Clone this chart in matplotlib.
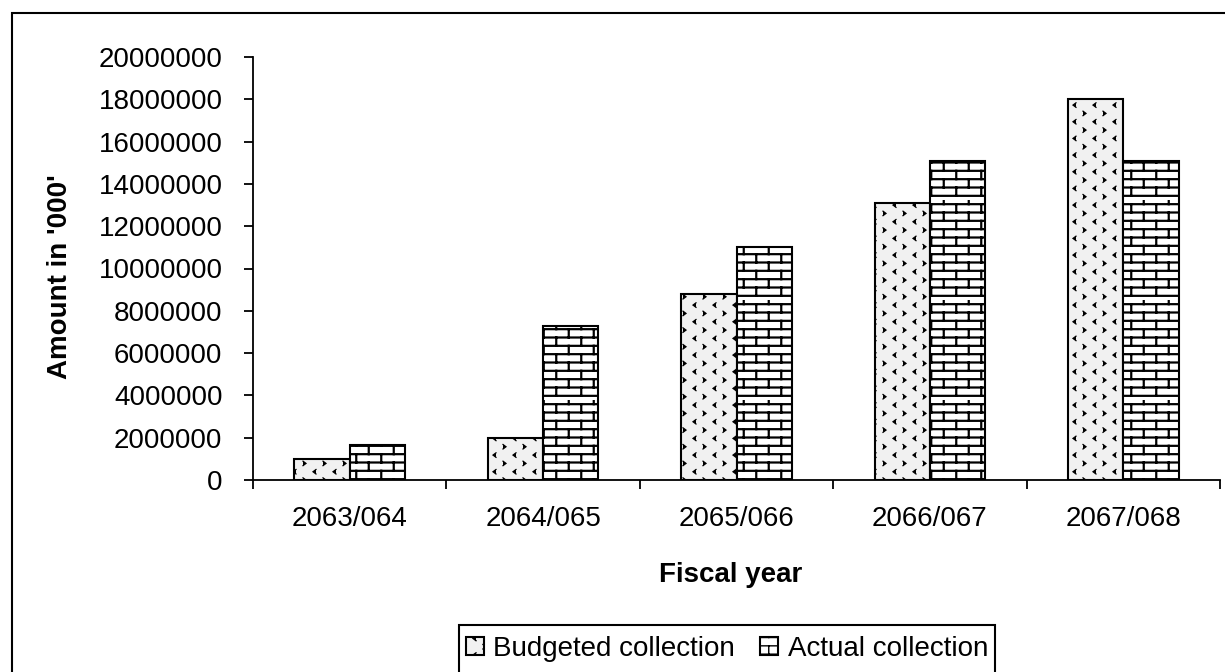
import matplotlib
matplotlib.use('Agg')
import matplotlib.pyplot as plt
import matplotlib.hatch as mhatch
import numpy as np
from matplotlib.path import Path
from matplotlib.patches import Rectangle

# data (amount in '000')
years = ['2063/064', '2064/065', '2065/066', '2066/067', '2067/068']
budgeted = [1000000, 2000000, 8800000, 13100000, 18000000]
actual = [1650000, 7300000, 11000000, 15100000, 15100000]
yticks = np.arange(0, 20000001, 2000000)


def fill_segments(segs, vertices, codes):
    # each segment is a list of points -> moveto + linetos
    i = 0
    for pts in segs:
        for k, p in enumerate(pts):
            vertices[i] = p
            codes[i] = Path.MOVETO if k == 0 else Path.LINETO
            i += 1


class BrickHatch(mhatch.HatchPatternBase):
    # '+' gives the excel brick wall fill
    def __init__(self, hatch, density):
        self.rows = 12 if '+' in hatch else 0
        self.num_vertices = self.rows * 5 * 2

    def set_vertices_and_codes(self, vertices, codes):
        segs = []
        dy = 1.0 / self.rows
        for r in range(self.rows):
            y0 = r * dy + dy / 2
            segs.append([(0.0, y0), (1.0, y0)])
            off = 0.0625 if r % 2 == 0 else 0.1875
            for k in range(4):
                x = off + k * 0.25
                segs.append([(x, y0), (x, y0 + dy)])
        fill_segments(segs, vertices, codes)


class ChevronHatch(mhatch.HatchPatternBase):
    # '.' gives small < > marks, like the excel "confetti" fill
    def __init__(self, hatch, density):
        self.rows = 12 if '.' in hatch else 0
        self.cols = 5
        self.num_vertices = self.rows * self.cols * 3

    def set_vertices_and_codes(self, vertices, codes):
        segs = []
        w, h = 0.03, 0.045
        for r in range(self.rows):
            y = r / self.rows + 0.01
            for c in range(self.cols):
                if r % 2 == 0:
                    x = c / self.cols + 0.03
                    segs.append([(x, y + h), (x + w, y + h / 2), (x, y)])
                else:
                    x = c / self.cols + 0.03 + 0.5 / self.cols
                    segs.append([(x + w, y + h), (x, y + h / 2), (x + w, y)])
        fill_segments(segs, vertices, codes)


mhatch._hatch_types = [BrickHatch, ChevronHatch]

plt.rcParams['font.family'] = ['Liberation Sans', 'DejaVu Sans']
plt.rcParams['font.size'] = 20

fig = plt.figure(figsize=(12.25, 6.72), dpi=100)
ax = fig.add_axes([253 / 1225, 1 - 480 / 672, 967 / 1225, 423 / 672])

x = np.arange(len(years))
w = 1 / 3.5
with plt.rc_context({'hatch.linewidth': 0.9}):
    ax.bar(x - w / 2, budgeted, w, facecolor='#f1f1f1', edgecolor='black',
           linewidth=1.5, hatch='.', label='Budgeted collection')
with plt.rc_context({'hatch.linewidth': 1.6}):
    ax.bar(x + w / 2, actual, w, facecolor='white', edgecolor='black',
           linewidth=1.5, hatch='+', label='Actual collection')

ax.set_xlim(-0.5, 4.5)
ax.set_ylim(0, 20000000)
ax.set_yticks(yticks, [str(v) for v in yticks])
ax.set_xticks(x, years)
ax.set_xticks(np.arange(-0.5, 5, 1), minor=True)
ax.tick_params(axis='x', which='major', length=0, pad=19)
ax.tick_params(axis='x', which='minor', length=6.5, width=1.3, direction='out')
ax.tick_params(axis='y', length=6.5, width=1.3, direction='out', pad=15.5)

for s in ['top', 'right']:
    ax.spines[s].set_visible(False)
for s in ['left', 'bottom']:
    ax.spines[s].set_linewidth(1.3)

fig.text(60 / 1225, 1 - 277 / 672, "Amount in '000'", rotation=90,
         ha='center', va='center', fontweight='bold')
fig.text(731 / 1225, 1 - 575 / 672, 'Fiscal year',
         ha='center', va='center', fontweight='bold')

leg = fig.legend(loc='upper center', bbox_to_anchor=(727 / 1225, 1 - 629 / 672),
                 ncol=2, frameon=False,
                 handlelength=0.65, handleheight=0.6, handletextpad=0.35,
                 columnspacing=0.9, borderpad=0.25, borderaxespad=0)

# legend box runs off the bottom of the picture, so draw it by hand
fig.canvas.draw()
bb = leg.get_window_extent().transformed(fig.transFigure.inverted())
top = 1 - 625 / 672
fig.patches.append(Rectangle((bb.x0, -0.1), bb.width, top + 0.1,
                             transform=fig.transFigure, fill=False,
                             edgecolor='black', linewidth=1.5))

# outer chart-area border (cut off at right and bottom)
fig.patches.append(Rectangle((12 / 1225, -0.2), 1.2, 0.2 + 1 - 13 / 672,
                             transform=fig.transFigure, fill=False,
                             edgecolor='black', linewidth=1.5))

fig.savefig('out.png', dpi=100)
